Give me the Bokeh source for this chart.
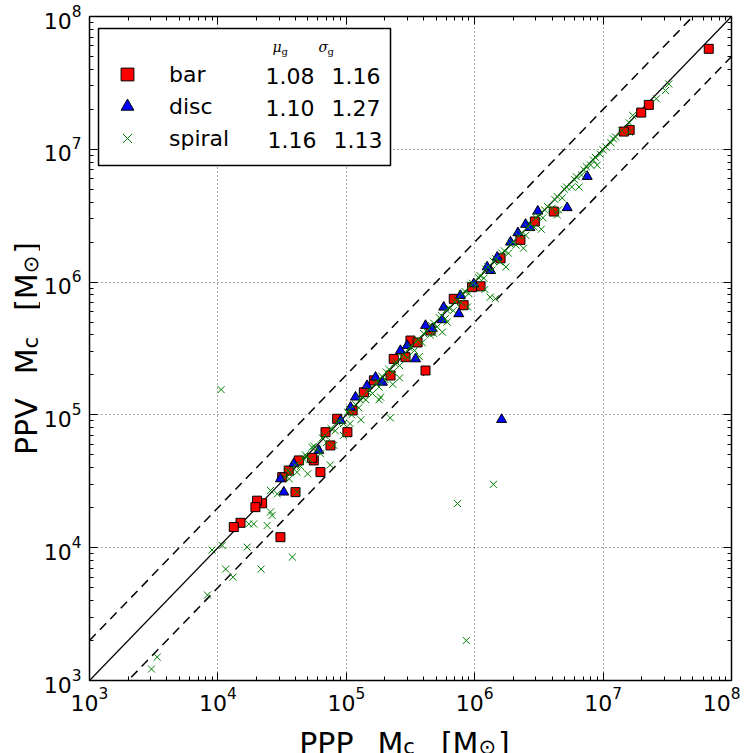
import numpy as np
from bokeh.plotting import figure
from bokeh.layouts import row, column
from bokeh.models import (LogTicker, LogAxis, Legend, LegendItem, Label,
                          CustomJSTickFormatter, BoxAnnotation)
from bokeh.embed import file_html
from bokeh.resources import INLINE

# ---------------- data (cloud masses, M_sun) ----------------
bar_ppp = [6.65e7, 2.27e7, 1.98e7, 1.61e7, 1.45e7, 4.13e6, 2.94e6, 1.11e6, 9.55e5, 6.87e5,
           4.53e5, 4.14e5, 3.16e5, 2.89e5, 2.34e5, 2.21e5, 1.64e5, 1.37e5, 1.02e5, 8.49e4,
           7.53e4, 6.89e4, 6.29e4, 5.58e4, 5.42e4, 4.27e4, 4.02e4, 3.56e4, 3.17e4, 3.07e4,
           2.21e4, 2.02e4, 1.96e4, 1.50e4, 1.33e4, 8.2e5, 3.59e5, 1.59e6, 2.27e6, 1.12e5]
bar_ppv = [5.71e7, 2.16e7, 1.89e7, 1.40e7, 1.36e7, 3.40e6, 2.86e6, 9.30e5, 9.16e5, 7.48e5,
           4.32e5, 2.16e5, 3.63e5, 2.72e5, 2.64e5, 1.98e5, 1.82e5, 1.48e5, 7.41e4, 9.35e4,
           5.89e4, 7.41e4, 3.71e4, 4.54e4, 4.75e4, 4.54e4, 2.62e4, 3.81e4, 3.40e4, 1.20e4,
           2.16e4, 2.26e4, 2.02e4, 1.54e4, 1.43e4, 6.7e5, 3.51e5, 1.51e6, 2.08e6, 1.08e5]

disc_ppp = [7.52e6, 5.25e6, 3.10e6, 2.49e6, 2.69e6, 2.17e6, 1.90e6, 1.50e6, 1.33e6, 1.25e6,
            9.84e5, 7.52e5, 5.74e5, 5.58e5, 4.67e5, 4.14e5, 3.46e5, 2.98e5, 1.91e5, 1.69e5,
            1.45e5, 1.18e5, 1.08e5, 6.11e4, 3.90e4, 3.07e4, 3.26e4, 1.62e6, 7.74e5, 2.64e5,
            9.02e4]
disc_ppv = [6.24e6, 3.63e6, 3.42e6, 2.72e6, 2.57e6, 2.35e6, 2.00e6, 1.54e6, 1.22e6, 1.30e6,
            9.70e5, 5.77e5, 6.47e5, 5.20e5, 4.45e5, 4.71e5, 2.64e5, 3.33e5, 1.76e5, 1.92e5,
            1.66e5, 1.36e5, 1.14e5, 5.40e4, 4.29e4, 3.30e4, 2.62e4, 9.23e4, 7.92e5, 3.05e5,
            9.08e4]

spiral_ppp = [
    3.04e3, 3.37e3, 8.3e3, 9.0e3, 1.08e4, 1.15e4, 1.31e4, 1.69e4, 2.17e4, 3.8e4,
    1.06e4, 1.74e4, 1.9e4, 2.42e4, 2.57e4, 2.64e4, 2.57e4, 2.9e4, 3.67e4, 4.13e4,
    4.13e4, 4.93e4, 6.3e4, 7.5e4, 9.5e4, 1.07e5, 1.85e5, 2.2e5, 2.3e5, 4.8e5,
    6.1e5, 7.35e5, 8.6e5, 1.32e6, 1.45e6, 1.4e6, 4.4e6, 2.6e7, 3.06e7, 3.25e7,
    3.3e4, 3.6e4, 4.0e4, 4.4e4, 4.8e4, 5.2e4, 5.6e4, 6.0e4, 6.5e4, 7.0e4,
    7.6e4, 8.2e4, 8.8e4, 9.5e4, 1.02e5, 1.1e5, 1.18e5, 1.25e5, 1.33e5, 1.42e5,
    1.5e5, 1.6e5, 1.7e5, 1.8e5, 1.9e5, 2.0e5, 2.15e5, 2.3e5, 2.45e5, 2.6e5,
    2.8e5, 3.0e5, 3.2e5, 3.4e5, 3.6e5, 3.9e5, 4.2e5, 4.5e5, 4.8e5, 5.1e5,
    5.5e5, 5.9e5, 6.3e5, 6.8e5, 7.3e5, 7.8e5, 8.4e5, 9.0e5, 9.6e5, 1.03e6,
    1.1e6, 1.18e6, 1.27e6, 1.36e6, 1.46e6, 1.57e6, 1.7e6, 1.83e6, 1.97e6, 2.1e6,
    2.3e6, 2.5e6, 2.7e6, 2.9e6, 3.1e6, 3.4e6, 3.7e6, 4.0e6, 4.4e6, 4.8e6,
    5.2e6, 5.7e6, 6.2e6, 6.8e6, 7.4e6, 8.0e6, 8.7e6, 9.5e6, 1.05e7, 1.15e7,
    1.25e7, 1.4e7, 1.6e7, 1.7e7,
    3.5e4, 4.6e4, 5.4e4, 6.8e4, 8.5e4, 1.06e5, 1.28e5, 1.46e5, 1.75e5, 2.05e5,
    2.38e5, 2.7e5, 3.1e5, 3.5e5, 4.0e5, 4.6e5, 5.3e5, 6.0e5, 7.0e5, 8.0e5,
    9.3e5, 1.07e6, 1.22e6, 1.4e6, 1.63e6, 1.9e6, 2.2e6, 2.6e6, 3.0e6, 3.5e6,
    4.2e6, 5.0e6, 6.0e6, 7.1e6, 8.4e6, 1.0e7, 1.2e7,
    5.0e4, 8.0e4, 1.3e5, 1.8e5, 2.6e5, 3.7e5, 5.6e5, 8.8e5, 1.2e6, 1.75e6,
    2.4e6, 3.3e6, 4.5e6, 6.5e6, 9.0e6, 1.6e7]
spiral_ppv = [
    1.22e3, 1.50e3, 4.4e3, 9.6e3, 1.04e4, 6.9e3, 6.0e3, 1.01e4, 6.9e3, 8.5e3,
    1.55e5, 1.51e4, 1.51e4, 1.47e4, 1.86e4, 1.75e4, 2.7e4, 2.54e4, 3.7e4, 3.7e4,
    2.63e4, 4.8e4, 5.1e4, 4.2e4, 7.0e4, 8.6e4, 1.36e5, 9.5e4, 1.7e5, 4.1e5,
    5.0e5, 2.15e4, 2.0e3, 7.7e5, 7.5e5, 3.0e4, 3.2e6, 2.4e7, 2.77e7, 3.1e7,
    3.4e4, 3.3e4, 4.2e4, 4.1e4, 5.0e4, 4.6e4, 5.8e4, 5.5e4, 6.7e4, 6.2e4,
    7.9e4, 7.6e4, 9.0e4, 8.6e4, 1.05e5, 1.0e5, 1.2e5, 1.13e5, 1.37e5, 1.3e5,
    1.55e5, 1.45e5, 1.73e5, 1.62e5, 1.95e5, 1.85e5, 2.2e5, 2.1e5, 2.5e5, 2.35e5,
    2.85e5, 2.7e5, 3.25e5, 3.05e5, 3.7e5, 3.5e5, 4.25e5, 4.0e5, 4.9e5, 4.6e5,
    5.6e5, 5.3e5, 6.4e5, 6.1e5, 7.4e5, 7.0e5, 8.5e5, 8.2e5, 9.8e5, 9.4e5,
    1.12e6, 1.07e6, 1.3e6, 1.23e6, 1.5e6, 1.42e6, 1.72e6, 1.65e6, 2.0e6, 1.9e6,
    2.32e6, 2.25e6, 2.75e6, 2.6e6, 3.15e6, 3.05e6, 3.7e6, 3.6e6, 4.4e6, 4.3e6,
    5.2e6, 5.2e6, 6.2e6, 6.4e6, 7.4e6, 7.6e6, 8.7e6, 9.2e6, 1.04e7, 1.12e7,
    1.24e7, 1.38e7, 1.58e7, 1.8e7,
    3.8e4, 4.7e4, 5.7e4, 7.0e4, 8.8e4, 1.1e5, 1.3e5, 1.5e5, 1.8e5, 2.1e5,
    2.45e5, 2.75e5, 3.2e5, 3.55e5, 4.1e5, 4.7e5, 5.4e5, 6.2e5, 7.1e5, 8.2e5,
    9.5e5, 1.08e6, 1.25e6, 1.43e6, 1.65e6, 1.92e6, 2.22e6, 2.6e6, 3.05e6, 3.5e6,
    4.2e6, 5.0e6, 5.9e6, 7.0e6, 8.3e6, 9.9e6, 1.2e7,
    3.6e4, 5.9e4, 9.2e4, 1.3e5, 1.9e5, 2.75e5, 4.2e5, 6.5e5, 8.8e5, 1.3e6,
    1.8e6, 2.5e6, 3.5e6, 5.2e6, 7.6e6, 1.35e7]

# reference relations: 1:1, x2, x0.5
ref_x = [1e3, 1e8]
ref_one = [1e3, 1e8]
ref_twice = [2e3, 2e8]
ref_half = [5e2, 5e7]

legend_names = ["bar", "disc", "spiral"]
mu_g = ["1.08", "1.10", "1.16"]
sigma_g = ["1.16", "1.27", "1.13"]

FONT = "DejaVu Sans"

# ---------------- geometry ----------------
YLAB_W = 40
BORDER_L, BORDER_T = 89 - YLAB_W, 16
FRAME_W, FRAME_H = 642, 664
MAIN_W = BORDER_L + FRAME_W + 9
MAIN_H = 714
TOTAL_H = 753
XLAB_H = TOTAL_H - MAIN_H

p = figure(width=MAIN_W, height=MAIN_H, x_axis_type="log", y_axis_type="log",
           x_range=(1e3, 1e8), y_range=(1e3, 1e8),
           output_backend="svg", toolbar_location=None,
           min_border_left=BORDER_L, min_border_right=MAIN_W - BORDER_L - FRAME_W,
           min_border_top=BORDER_T, min_border_bottom=MAIN_H - BORDER_T - FRAME_H)
p.outline_line_color = "black"
p.outline_line_width = 1.5
p.background_fill_color = "white"

def style_axis(ax, show_labels=True):
    ax.ticker = LogTicker(num_minor_ticks=10, desired_num_ticks=6)
    ax.axis_line_color = None
    ax.major_tick_in = 8
    ax.major_tick_out = 0
    ax.minor_tick_in = 4
    ax.minor_tick_out = 0
    ax.major_tick_line_color = "black"
    ax.minor_tick_line_color = "black"
    ax.major_tick_line_width = 1
    ax.minor_tick_line_width = 1
    if show_labels:
        ax.major_label_text_font = FONT
        ax.major_label_text_font_size = "22px"
        ax.major_label_text_color = "black"
    else:
        ax.formatter = CustomJSTickFormatter(code="return ' ';")
        ax.major_label_text_font_size = "4px"
        ax.major_label_standoff = 0

style_axis(p.xaxis[0])
style_axis(p.yaxis[0])
p.xaxis[0].major_label_standoff = 6
p.yaxis[0].major_label_standoff = 8

top_ax = LogAxis()
right_ax = LogAxis()
style_axis(top_ax, False)
style_axis(right_ax, False)
p.add_layout(top_ax, "above")
p.add_layout(right_ax, "right")

p.grid.grid_line_color = "black"
p.grid.grid_line_alpha = 0.65
p.grid.grid_line_dash = "1 3"
p.grid.grid_line_width = 1

p.line(ref_x, ref_one, line_color="black", line_width=1.2)
p.line(ref_x, ref_twice, line_color="black", line_width=1.5, line_dash="9 6")
p.line(ref_x, ref_half, line_color="black", line_width=1.5, line_dash="9 6")

r_bar = p.scatter(bar_ppp, bar_ppv, marker="square", size=9,
                  fill_color="red", line_color="black", line_width=1)
r_disc = p.scatter(disc_ppp, disc_ppv, marker="triangle", size=10,
                   fill_color="blue", line_color="black", line_width=1)
r_sp = p.scatter(spiral_ppp, spiral_ppv, marker="x", size=10,
                 line_color="green", line_width=1)

# legend frame (pixel box inside the axes, expressed through the log scales)
def fx(px):
    return 10 ** (3 + 5 * px / FRAME_W)

def fy(py):
    return 10 ** (3 + 5 * py / FRAME_H)

LEG_L, LEG_B, LEG_W, LEG_H = 9, 515, 292, 137
p.add_layout(BoxAnnotation(left=fx(LEG_L), right=fx(LEG_L + LEG_W),
                           bottom=fy(LEG_B), top=fy(LEG_B + LEG_H),
                           fill_color="white", fill_alpha=1.0,
                           line_color="black", line_width=1.5, line_alpha=1.0))

legend = Legend(items=[LegendItem(label=legend_names[0], renderers=[r_bar]),
                       LegendItem(label=legend_names[1], renderers=[r_disc]),
                       LegendItem(label=legend_names[2], renderers=[r_sp])],
                location=(LEG_L + 7, LEG_B + 11), title="·", title_text_font_size="12px",
                title_text_color="white", title_text_alpha=0.0,
                title_standoff=5, padding=10, margin=0, spacing=0,
                glyph_width=44, glyph_height=32, label_height=32, label_width=200,
                label_standoff=20, label_text_font=FONT, label_text_font_size="22px",
                label_text_color="black", label_text_baseline="middle",
                border_line_color=None, background_fill_alpha=0.0)
p.add_layout(legend)

row_y = [605, 573, 541]
mu_x = [176, 176, 178]
sg_x = [242, 242, 244]
for i in range(3):
    p.add_layout(Label(x=mu_x[i], y=row_y[i], x_units="screen", y_units="screen",
                       text=mu_g[i], text_font=FONT, text_font_size="22px",
                       text_baseline="middle", text_align="left", text_color="black"))
    p.add_layout(Label(x=sg_x[i], y=row_y[i], x_units="screen", y_units="screen",
                       text=sigma_g[i], text_font=FONT, text_font_size="22px",
                       text_baseline="middle", text_align="left", text_color="black"))

# header of the legend: mu_g, sigma_g
for sym, sx in (("μ", 183), ("σ", 229)):
    p.add_layout(Label(x=sx, y=634, x_units="screen", y_units="screen", text=sym,
                       text_font="DejaVu Serif", text_font_style="italic",
                       text_font_size="14px", text_baseline="middle", text_color="black"))
    p.add_layout(Label(x=sx + 9, y=629, x_units="screen", y_units="screen", text="g",
                       text_font="DejaVu Serif", text_font_size="10px",
                       text_baseline="middle", text_color="black"))

# ---------------- axis titles (with subscripts) in side strips ----------------
def strip(w, h):
    f = figure(width=w, height=h, output_backend="svg", toolbar_location=None,
               title=None, min_border=0, x_axis_location=None, y_axis_location=None)
    f.outline_line_color = None
    f.background_fill_color = "white"
    f.border_fill_color = "white"
    return f

xlab = strip(MAIN_W, XLAB_H)
ylab = strip(YLAB_W, TOTAL_H)

W = {'P': 0.603, 'V': 0.684, 'M': 0.863, '[': 0.390, ']': 0.390,
     'c': 0.550, '⊙': 0.838}
BIG, SUB = 30, 21

def width(txt, fs):
    return sum(W.get(ch, 0.6) for ch in txt) * fs

def pieces(first):
    # (text, font size, is subscript, gap after)
    return [(first, BIG, False, 24), ("M", BIG, False, 0), ("c", SUB, True, 26),
            ("[M", BIG, False, 0), ("⊙", SUB, True, 2), ("]", BIG, False, 0)]

def add_title(fig, first, vertical, center, base, sub_shift):
    ps = pieces(first)
    total = sum(width(t, f) + g for t, f, s, g in ps)
    pos = center - total / 2
    for t, f, s, g in ps:
        if vertical:
            fig.add_layout(Label(x=base + (sub_shift if s else 0), y=pos,
                                 x_units="screen", y_units="screen",
                                 text=t, text_font=FONT, text_font_size=f"{f}px", angle=np.pi / 2,
                                 text_baseline="alphabetic", text_align="left", text_color="black"))
        else:
            fig.add_layout(Label(x=pos, y=base - (sub_shift if s else 0),
                                 x_units="screen", y_units="screen",
                                 text=t, text_font=FONT, text_font_size=f"{f}px",
                                 text_baseline="alphabetic", text_align="left", text_color="black"))
        pos += width(t, f) + g

# x title: the strip's frame is aligned with the main frame by the column layout
add_title(xlab, "PPP", False, FRAME_W / 2 - 6, TOTAL_H - 743, 3)
add_title(ylab, "PPV", True, TOTAL_H - (BORDER_T + FRAME_H / 2), 26, 4)

layout = row(ylab, column(p, xlab))
open("out.html", "w").write(file_html(layout, INLINE))
